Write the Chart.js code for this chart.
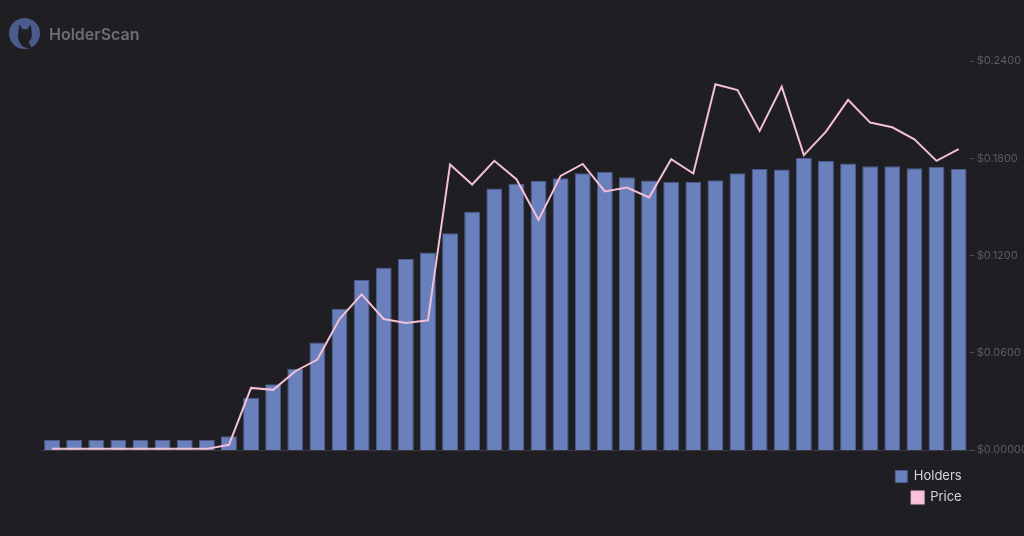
<!DOCTYPE html>
<html>
<head>
<meta charset="utf-8">
<script src="https://cdn.jsdelivr.net/npm/chart.js@4.4.1/dist/chart.umd.min.js"></script>
<style>
  html, body { margin: 0; padding: 0; background: #1f1e23; overflow: hidden; }
  #wrap { position: relative; width: 1030px; height: 536px; }
  #brand { position: absolute; left: 9px; top: 18px; display: flex; align-items: center; gap: 9px;
           font-family: Inter, "Noto Sans", sans-serif; font-weight: 600; font-size: 16px; color: #6d6d72; }
</style>
</head>
<body>
<div id="wrap">
  <div id="brand">
    <svg width="31" height="31" viewBox="0 0 30 30">
      <circle cx="15" cy="15" r="15" fill="#4b5b8b"/>
      <path d="M10 6 L13 11 L18 11 L21 6 L22 14 Q23 20 19 23 L22 29 Q14 30 11 25 Q8 20 9 14 Z" fill="#1f1e23"/>
    </svg>
    <span>HolderScan</span>
  </div>
  <canvas id="chart" width="1030" height="536"></canvas>
</div>
<script>
window.onload = () => {
  const days = [
    'D1', 'D2', 'D3', 'D4', 'D5', 'D6', 'D7', 'D8', 'D9', 'D10', 'D11', 'D12', 'D13', 'D14',
    'D15', 'D16', 'D17', 'D18', 'D19', 'D20', 'D21', 'D22', 'D23', 'D24', 'D25', 'D26', 'D27', 'D28',
    'D29', 'D30', 'D31', 'D32', 'D33', 'D34', 'D35', 'D36', 'D37', 'D38', 'D39', 'D40', 'D41', 'D42'
  ];

  // holders per day (left axis is hidden, read against 0..2400)
  const holders = [
    63, 63, 63, 63, 63, 63, 63, 63, 85, 322, 405, 502, 664, 872,
    1049, 1125, 1178, 1219, 1338, 1470, 1613, 1642, 1661, 1677, 1708, 1716, 1683, 1663,
    1655, 1653, 1664, 1708, 1733, 1730, 1801, 1784, 1767, 1751, 1751, 1739, 1747, 1733
  ];

  // price in $
  const price = [
    0.0007, 0.0007, 0.0007, 0.0007, 0.0007, 0.0007, 0.0007, 0.0007, 0.0032, 0.0383, 0.0371, 0.0486, 0.0558, 0.0808,
    0.0960, 0.0808, 0.0784, 0.0800, 0.1761, 0.1638, 0.1784, 0.1671, 0.1420, 0.1691, 0.1765, 0.1595, 0.1619, 0.1558,
    0.1794, 0.1706, 0.2256, 0.2221, 0.1969, 0.2242, 0.1819, 0.1964, 0.2160, 0.2020, 0.1991, 0.1917, 0.1784, 0.1856
  ];

  const priceTicks = [0, 0.06, 0.12, 0.18, 0.24];

  // put each legend item on its own row (right aligned)
  const stackLegend = {
    id: 'stackLegend',
    afterInit(chart) {
      const legend = chart.legend;
      const fitRows = legend._fitRows;
      legend._fitRows = function (...args) {
        const full = this.maxWidth;
        this.maxWidth = 0;
        const h = fitRows.apply(this, args);
        this.maxWidth = full;
        return h;
      };
    }
  };

  new Chart(document.getElementById('chart'), {
    data: {
      labels: days,
      datasets: [
        {
          type: 'bar',
          label: 'Holders',
          data: holders,
          yAxisID: 'yHolders',
          backgroundColor: '#6a80bd',
          borderColor: '#4d5c8c',
          borderWidth: 1,
          order: 1
        },
        {
          type: 'line',
          label: 'Price',
          data: price,
          yAxisID: 'yPrice',
          borderColor: '#f2bfd4',
          backgroundColor: '#fcc3d9',
          borderWidth: 2,
          pointRadius: 0,
          tension: 0,
          order: 0
        }
      ]
    },
    options: {
      responsive: false,
      animation: false,
      layout: { padding: { top: 61, left: 41, right: 0, bottom: 22 } },
      plugins: {
        tooltip: { enabled: false },
        legend: {
          position: 'bottom',
          align: 'end',
          fullSize: false,
          labels: {
            boxWidth: 12,
            boxHeight: 12,
            padding: 8,
            color: '#d6d6d8',
            font: { family: 'Inter', size: 13 },
            sort: (a, b) => a.datasetIndex - b.datasetIndex
          }
        }
      },
      scales: {
        x: {
          grid: { display: true, drawOnChartArea: false, drawTicks: true, tickLength: 12, color: 'transparent' },
          border: { display: true, color: '#3a3a3f', width: 1 },
          ticks: { display: false }
        },
        yHolders: {
          position: 'left',
          display: false,
          min: 0,
          max: 2400
        },
        yPrice: {
          position: 'right',
          min: 0,
          max: 0.24,
          afterBuildTicks: axis => { axis.ticks = priceTicks.map(v => ({ value: v })); },
          grid: { drawOnChartArea: false, drawTicks: true, tickLength: 5, color: '#4a4a4f' },
          border: { display: false },
          ticks: {
            padding: 2,
            color: '#5b5b60',
            font: { family: 'Inter', size: 11 },
            callback: v => v === 0 ? '$0.00000' : '$' + v.toFixed(4)
          }
        }
      }
    },
    plugins: [stackLegend]
  });
};
</script>
</body>
</html>
